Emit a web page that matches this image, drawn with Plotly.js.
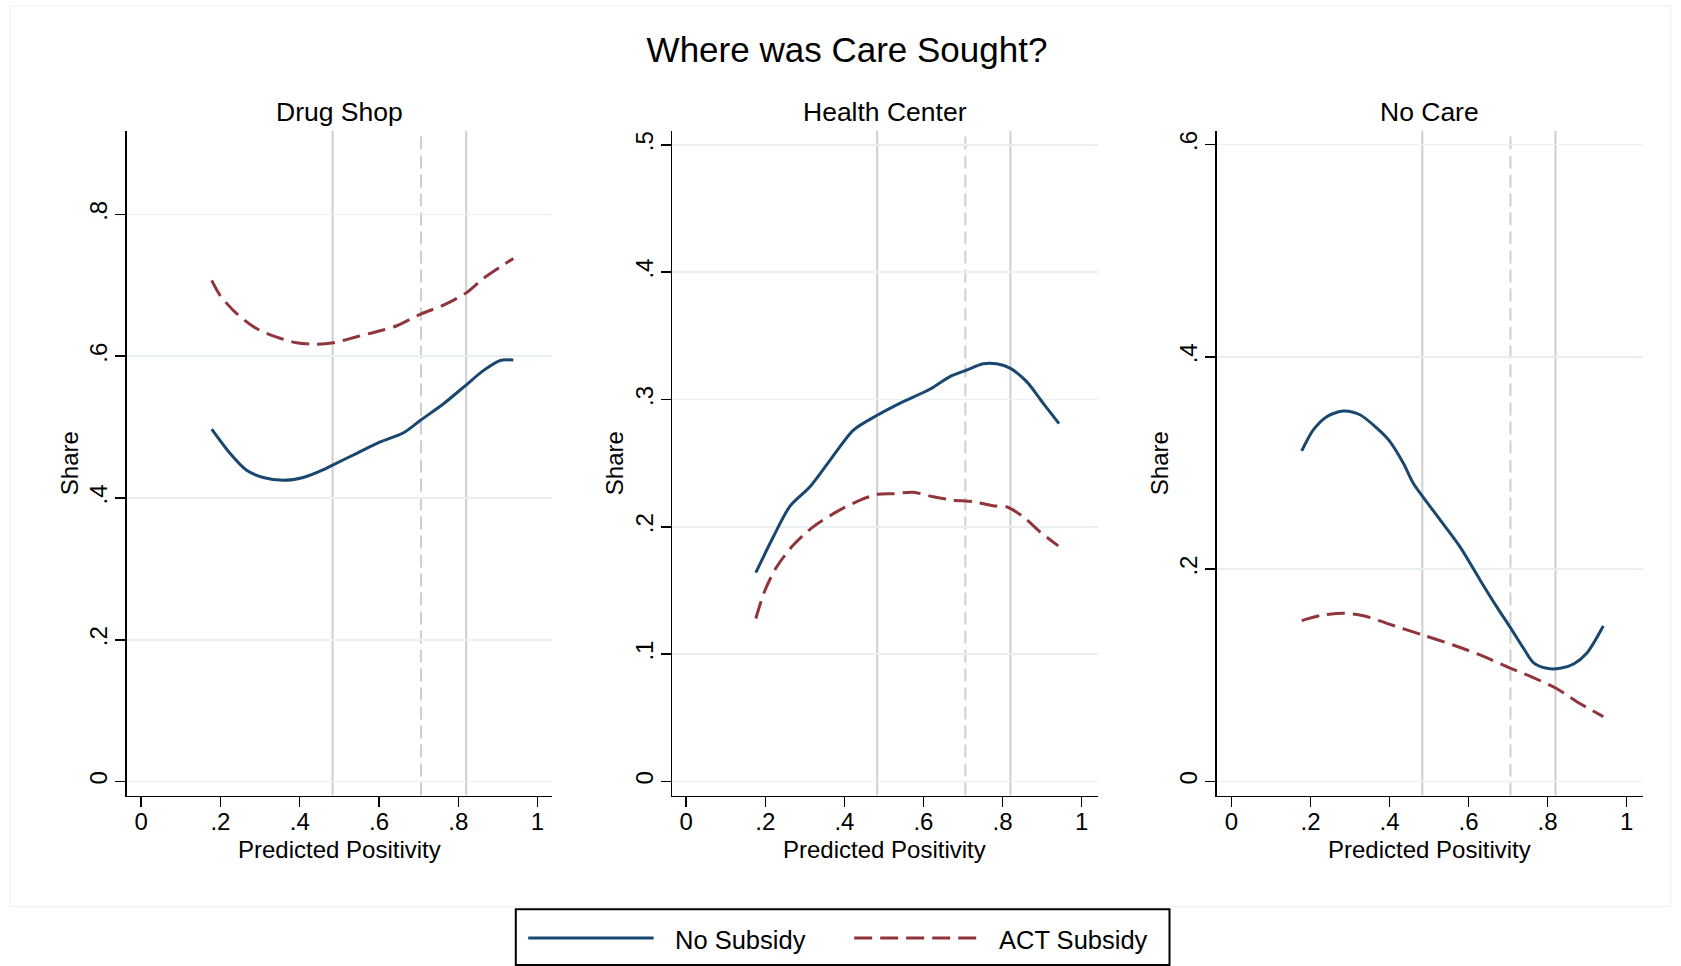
<!DOCTYPE html>
<html>
<head>
<meta charset="utf-8">
<script src="https://cdn.plot.ly/plotly-3.0.1.min.js"></script>
<style>html,body{margin:0;padding:0;background:#fff;}#chart{width:1681px;height:966px;}</style>
</head>
<body>
<div id="chart"></div>
<script>
// ---------- data ----------
const panelTitles = ["Drug Shop", "Health Center", "No Care"];
const seriesNames = ["No Subsidy", "ACT Subsidy"];
const xTitle = "Predicted Positivity";
const yTitle = "Share";

const xTickVals = [0, 0.2, 0.4, 0.6, 0.8, 1];
const xTickText = ["0", ".2", ".4", ".6", ".8", "1"];

const drugTickVals = [0, 0.2, 0.4, 0.6, 0.8];
const drugTickText = ["0", ".2", ".4", ".6", ".8"];
const healthTickVals = [0, 0.1, 0.2, 0.3, 0.4, 0.5];
const healthTickText = ["0", ".1", ".2", ".3", ".4", ".5"];
const noCareTickVals = [0, 0.2, 0.4, 0.6];
const noCareTickText = ["0", ".2", ".4", ".6"];

// reference vertical lines (x positions)
const refLineX = [0.483, 0.706, 0.820];
const refLineDash = ["solid", "dash", "solid"];

// Drug Shop
const drugNoX  = [0.178,0.224,0.266,0.308,0.359,0.409,0.460,0.483,0.544,0.603,0.662,0.7055,0.763,0.819,0.864,0.906,0.939];
const drugNoY  = [0.497,0.463,0.439,0.429,0.425,0.429,0.440,0.4465,0.463,0.479,0.492,0.510,0.533,0.559,0.580,0.594,0.5945];
const drugActX = [0.178,0.199,0.241,0.291,0.342,0.392,0.443,0.485,0.544,0.603,0.645,0.7055,0.763,0.819,0.864,0.906,0.939];
const drugActY = [0.707,0.686,0.660,0.639,0.627,0.619,0.617,0.619,0.6275,0.636,0.643,0.6595,0.672,0.689,0.710,0.726,0.738];

// Health Center
const healthNoX  = [0.176,0.220,0.262,0.313,0.364,0.423,0.484,0.540,0.616,0.667,0.709,0.751,0.785,0.820,0.861,0.903,0.943];
const healthNoY  = [0.164,0.192,0.216,0.2315,0.2524,0.276,0.2878,0.297,0.308,0.318,0.323,0.328,0.328,0.3244,0.314,0.297,0.281];
const healthActX = [0.176,0.199,0.229,0.271,0.321,0.381,0.440,0.484,0.524,0.574,0.625,0.675,0.726,0.776,0.810,0.852,0.895,0.941];
const healthActY = [0.128,0.150,0.1687,0.1857,0.200,0.2119,0.221,0.2255,0.226,0.2271,0.2236,0.221,0.2197,0.2166,0.2158,0.208,0.196,0.185];

// No Care
const noCareNoX  = [0.1777,0.207,0.241,0.283,0.325,0.368,0.401,0.435,0.460,0.484,0.528,0.578,0.629,0.671,0.707,0.739,0.764,0.798,0.832,0.866,0.899,0.941];
const noCareNoY  = [0.3114,0.3312,0.3437,0.349,0.3455,0.3328,0.3202,0.2998,0.281,0.2684,0.2464,0.2212,0.1899,0.1647,0.1443,0.1255,0.112,0.1066,0.1066,0.1107,0.1208,0.1465];
const noCareActX = [0.1777,0.224,0.283,0.334,0.393,0.484,0.561,0.629,0.707,0.764,0.8215,0.874,0.941];
const noCareActY = [0.1515,0.1562,0.1585,0.1562,0.149,0.138,0.1286,0.1192,0.1066,0.0978,0.0878,0.0752,0.0611];

// ---------- styling ----------
const W = 1681, H = 966;
const FONT = "Liberation Sans, Arial, Helvetica, sans-serif";
const BLUE = "#1a476f", RED = "#90353b";
const ACT_DASH = "18px,8px";
const px = v => v / W, py = v => 1 - v / H;

const panels = [
  {xs: "x",  ys: "y",  nx: drugNoX,   ny: drugNoY,   ax: drugActX,   ay: drugActY},
  {xs: "x2", ys: "y2", nx: healthNoX, ny: healthNoY, ax: healthActX, ay: healthActY},
  {xs: "x3", ys: "y3", nx: noCareNoX, ny: noCareNoY, ax: noCareActX, ay: noCareActY}
];

const traces = [];
panels.forEach((p, i) => {
  traces.push({x: p.nx, y: p.ny, xaxis: p.xs, yaxis: p.ys, type: "scatter", mode: "lines",
    name: seriesNames[0], showlegend: false, legendgroup: "no",
    line: {color: BLUE, width: 3, shape: "spline", smoothing: 0.8}});
  traces.push({x: p.ax, y: p.ay, xaxis: p.xs, yaxis: p.ys, type: "scatter", mode: "lines",
    name: seriesNames[1], showlegend: false, legendgroup: "act",
    line: {color: RED, width: 3, dash: ACT_DASH, shape: "spline", smoothing: 0.8}});
});

const xDomains = [[px(126.5), px(552.2)], [px(672), px(1097.8)], [px(1216.5), px(1642.8)]];
const xRanges = [[-0.037, 1.037], [-0.036, 1.041], [-0.038, 1.041]];
const yDomain = [py(795.5), py(130.8)];
const yRanges = [[-0.0197, 0.918], [-0.011, 0.511], [-0.0132, 0.613]];
const yTicks = [[drugTickVals, drugTickText], [healthTickVals, healthTickText], [noCareTickVals, noCareTickText]];

function xAxis(i) {
  return {domain: xDomains[i], range: xRanges[i], anchor: i === 0 ? "y" : "y" + (i + 1),
    tickmode: "array", tickvals: xTickVals, ticktext: xTickText,
    ticks: "outside", ticklen: 10, tickwidth: 1.5, tickcolor: "#000", ticklabelstandoff: -6,
    showline: true, linecolor: "#000", linewidth: 1.5, showgrid: false, zeroline: false,
    tickfont: {family: FONT, size: 24, color: "#000"},
    automargin: false, fixedrange: true};
}
function yAxis(i) {
  return {domain: yDomain, range: yRanges[i], anchor: i === 0 ? "x" : "x" + (i + 1),
    tickmode: "array", tickvals: yTicks[i][0], ticktext: yTicks[i][1], tickangle: -90,
    ticks: "outside", ticklen: 10, tickwidth: 1.5, tickcolor: "#000", ticklabelstandoff: -2,
    showline: true, linecolor: "#000", linewidth: 1.5,
    showgrid: true, gridcolor: "#e8f0f2", gridwidth: 1.5, zeroline: false,
    tickfont: {family: FONT, size: 24, color: "#000"},
    title: {text: yTitle, font: {family: FONT, size: 24, color: "#000"}, standoff: 0},
    automargin: false, fixedrange: true};
}

const shapes = [];
// faint outer region border
shapes.push({type: "rect", xref: "paper", yref: "paper", x0: px(10), x1: px(1671), y0: py(906.7), y1: py(6),
  line: {color: "#eeeeee", width: 1}, layer: "below"});
// reference vertical lines in each panel
panels.forEach((p, i) => {
  refLineX.forEach((xv, k) => {
    shapes.push({type: "line", xref: p.xs, yref: "paper", x0: xv, x1: xv, y0: yDomain[0], y1: yDomain[1],
      line: {color: "#cfcfcf", width: 2, dash: refLineDash[k] === "dash" ? "13px,6px" : "solid"},
      layer: "below"});
  });
});
// legend box and samples
shapes.push({type: "rect", xref: "paper", yref: "paper", x0: px(515.8), x1: px(1169.5), y0: py(965), y1: py(909.3),
  line: {color: "#000", width: 2}});
shapes.push({type: "line", xref: "paper", yref: "paper", x0: px(528.2), x1: px(653.6), y0: py(938), y1: py(938),
  line: {color: BLUE, width: 3}});
shapes.push({type: "line", xref: "paper", yref: "paper", x0: px(854.2), x1: px(979.5), y0: py(938), y1: py(938),
  line: {color: RED, width: 3, dash: ACT_DASH}});

const annotations = [];
panelTitles.forEach((t, i) => {
  const cx = (xDomains[i][0] + xDomains[i][1]) / 2;
  annotations.push({text: t, xref: "paper", yref: "paper", x: cx, y: py(111.5),
    xanchor: "center", yanchor: "middle", showarrow: false, font: {family: FONT, size: 26.5, color: "#000"}});
  annotations.push({text: xTitle, xref: "paper", yref: "paper", x: cx, y: py(849),
    xanchor: "center", yanchor: "middle", showarrow: false, font: {family: FONT, size: 24, color: "#000"}});
});
annotations.push({text: seriesNames[0], xref: "paper", yref: "paper", x: px(672.8), y: py(940),
  xanchor: "left", yanchor: "middle", showarrow: false, font: {family: FONT, size: 25.5, color: "#000"}});
annotations.push({text: seriesNames[1], xref: "paper", yref: "paper", x: px(997.4), y: py(940),
  xanchor: "left", yanchor: "middle", showarrow: false, font: {family: FONT, size: 25.5, color: "#000"}});

const layout = {
  width: W, height: H,
  margin: {l: 0, r: 0, t: 0, b: 0, pad: 0},
  paper_bgcolor: "#ffffff", plot_bgcolor: "#ffffff",
  showlegend: false,
  title: {text: "Where was Care Sought?", x: px(847), y: py(49.3), xanchor: "center", yanchor: "middle",
    font: {family: FONT, size: 35, color: "#000"}},
  xaxis: xAxis(0), xaxis2: xAxis(1), xaxis3: xAxis(2),
  yaxis: yAxis(0), yaxis2: yAxis(1), yaxis3: yAxis(2),
  shapes: shapes, annotations: annotations
};

Plotly.newPlot("chart", traces, layout, {displayModeBar: false, staticPlot: true});
</script>
</body>
</html>
